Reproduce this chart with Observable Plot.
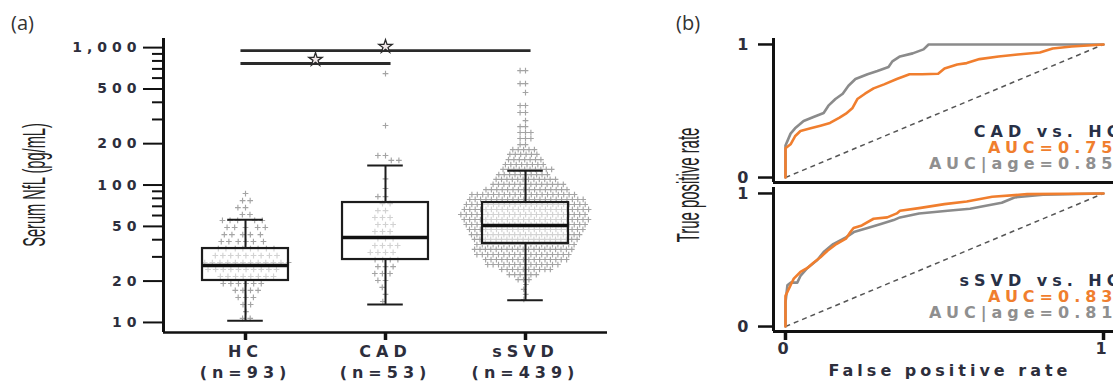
<!DOCTYPE html>
<html><head><meta charset="utf-8">
<script src="https://cdn.jsdelivr.net/npm/d3@7"></script>
<script src="https://cdn.jsdelivr.net/npm/@observablehq/plot@0.6"></script>
<style>
html,body{margin:0;padding:0;background:#fff;overflow:hidden;}
#root{position:relative;width:1113px;height:381px;overflow:hidden;background:#fff;}
.lbl{position:absolute;white-space:nowrap;line-height:1;}
</style></head><body><div id="root"></div>
<script>
// ---------- Panel (a) data ----------
const categories = ["HC", "CAD", "sSVD"];
const groupN = [93, 53, 439];
const q1 = [20.2, 28.7, 37.6];
const medians = [26, 41.5, 50.7];
const q3 = [34.5, 74.6, 74.6];
const whiskerLow = [10.3, 13.5, 14.5];
const whiskerHigh = [56, 138.6, 127];

// beeswarm rows (value, count)
const hcValues = [86.7, 77.1, 68.5, 61.0, 55.2, 49.1, 43.6, 38.8, 34.5, 30.7, 27.3, 24.3, 21.6, 19.2, 17.1, 15.2, 13.5, 12.0, 10.7];
const hcCounts = [1, 2, 2, 2, 5, 5, 5, 6, 8, 9, 12, 10, 8, 6, 4, 3, 2, 1, 2];
const cadValues = [647, 271, 164, 151, 111, 94.3, 82.4, 73.3, 65.2, 58.0, 51.6, 45.9, 40.8, 36.3, 32.3, 28.7, 25.5, 22.7, 20.2, 18.0, 16.0, 14.2];
const cadCounts = [1, 1, 2, 2, 1, 1, 2, 2, 2, 3, 3, 3, 3, 4, 4, 4, 3, 3, 2, 1, 1, 1];
const ssvdValues = [680, 547, 471, 379, 337, 294, 266, 241, 218, 197, 181, 167, 153, 141, 130, 119, 110, 101, 92.7, 85.3, 78.5, 72.2, 66.4, 61.0, 56.1, 51.6, 47.5, 43.6, 40.2, 36.9, 34.0, 31.2, 28.7, 26.4, 24.3, 22.3, 20.5, 18.9, 17.4, 16.0, 14.7];
const ssvdCounts = [2, 2, 1, 2, 2, 1, 2, 3, 3, 2, 5, 6, 7, 8, 10, 10, 12, 14, 16, 20, 22, 23, 24, 24, 24, 23, 22, 21, 20, 19, 19, 18, 16, 14, 10, 6, 3, 1, 1, 1, 1];

const sigPairs = [["HC", "sSVD"], ["HC", "CAD"]];
const sigLevels = [951, 766];
const yTicks = [10, 20, 50, 100, 200, 500, 1000];
const yMinorTicks = [30, 40, 60, 70, 80, 90, 300, 400, 600, 700, 800, 900];

// ---------- Panel (b) data ----------
const rocPanels = ["CAD vs. HC", "sSVD vs. HC"];
const aucLabels = ["AUC=0.75", "AUC=0.83"];
const ageLabels = ["AUC|age=0.85", "AUC|age=0.81"];
const rocTicks = [0, 1];
const cadAucFpr = [0, 0, 0.016, 0.03, 0.047, 0.079, 0.11, 0.14, 0.17, 0.19, 0.21, 0.226, 0.25, 0.277, 0.31, 0.35, 0.39, 0.43, 0.48, 0.50, 0.54, 0.57, 0.61, 0.67, 0.73, 0.80, 0.84, 0.90, 1];
const cadAucTpr = [0, 0.22, 0.25, 0.31, 0.35, 0.37, 0.39, 0.41, 0.45, 0.48, 0.52, 0.59, 0.63, 0.67, 0.70, 0.74, 0.776, 0.776, 0.78, 0.82, 0.85, 0.86, 0.89, 0.91, 0.925, 0.94, 0.97, 0.985, 1];
const cadAgeFpr = [0, 0, 0.016, 0.03, 0.057, 0.088, 0.12, 0.135, 0.157, 0.18, 0.198, 0.22, 0.258, 0.289, 0.324, 0.336, 0.36, 0.40, 0.434, 0.45, 1];
const cadAgeTpr = [0, 0.24, 0.33, 0.37, 0.425, 0.455, 0.485, 0.54, 0.59, 0.63, 0.69, 0.74, 0.776, 0.80, 0.83, 0.873, 0.91, 0.933, 0.963, 1, 1];
const ssvdAucFpr = [0, 0, 0.016, 0.026, 0.047, 0.069, 0.088, 0.11, 0.132, 0.16, 0.19, 0.204, 0.214, 0.24, 0.277, 0.32, 0.35, 0.36, 0.42, 0.50, 0.57, 0.65, 0.76, 1];
const ssvdAucTpr = [0, 0.23, 0.31, 0.36, 0.41, 0.44, 0.48, 0.52, 0.57, 0.62, 0.66, 0.71, 0.74, 0.76, 0.81, 0.82, 0.85, 0.87, 0.89, 0.92, 0.94, 0.975, 0.995, 1];
const ssvdAgeFpr = [0, 0, 0.006, 0.016, 0.037, 0.047, 0.069, 0.10, 0.12, 0.15, 0.19, 0.215, 0.258, 0.30, 0.34, 0.36, 0.42, 0.51, 0.58, 0.68, 0.72, 0.81, 1];
const ssvdAgeTpr = [0, 0.18, 0.31, 0.33, 0.33, 0.38, 0.44, 0.50, 0.56, 0.62, 0.67, 0.71, 0.74, 0.77, 0.80, 0.82, 0.85, 0.87, 0.885, 0.93, 0.97, 0.99, 1];

// ---------- build tables ----------
const swarmValues = [hcValues, cadValues, ssvdValues];
const swarmCounts = [hcCounts, cadCounts, ssvdCounts];
const dots = [];
categories.forEach((c, i) => swarmValues[i].forEach((v, j) => {
  for (let k = 0; k < swarmCounts[i][j]; k++) dots.push({group: c, value: v});
}));
const stats = categories.map((c, i) => ({group: c, i, q1: q1[i], med: medians[i], q3: q3[i], lo: whiskerLow[i], hi: whiskerHigh[i]}));
const idx = (c) => categories.indexOf(c);
const sig = sigPairs.map(([a, b], k) => ({a: idx(a), b: idx(b), mid: (idx(a) + idx(b)) / 2, level: sigLevels[k]}));

const toRows = (panel, fpr, tpr) => fpr.map((f, i) => ({panel, fpr: f, tpr: tpr[i]}));
const aucRows = [...toRows(rocPanels[0], cadAucFpr, cadAucTpr), ...toRows(rocPanels[1], ssvdAucFpr, ssvdAucTpr)];
const ageRows = [...toRows(rocPanels[0], cadAgeFpr, cadAgeTpr), ...toRows(rocPanels[1], ssvdAgeFpr, ssvdAgeTpr)];
const annot = rocPanels.map((p, i) => ({panel: p, title: p, auc: aucLabels[i], age: ageLabels[i]}));

// ---------- layout ----------
const root = document.getElementById("root");
const W = 640, H = 381, ML = 163, MR = 33, MT = 38, MB = 49;
const padOuter = 0.0857;
const yDomain = [8.45, 1165];
const xDomain = [-(0.5 + padOuter), categories.length - 0.5 + padOuter];
const WIDE = "'DejaVu Sans', sans-serif";
const INK = "#2d2e3c";

function layer(node, left) {
  node.style.position = "absolute";
  node.style.left = left + "px";
  node.style.top = "0px";
  root.appendChild(node);
}

// swarm (under): the small groups are spread loosely, the big group is packed tighter
const dotStyle = {fx: "group", y: "value", r: 2, symbol: "plus", stroke: "#a4a4a4", strokeWidth: 1.15};
const smallGroups = dots.filter(d => d.group !== "sSVD");
const bigGroup = dots.filter(d => d.group === "sSVD");
const swarm = Plot.plot({
  width: W, height: H, marginLeft: ML, marginRight: MR, marginTop: MT, marginBottom: MB,
  style: {background: "transparent", overflow: "visible"},
  fx: {domain: categories, paddingInner: 0, paddingOuter: padOuter, axis: null},
  y: {type: "log", domain: yDomain, axis: null},
  marks: [
    Plot.dot(smallGroups, Plot.dodgeX({anchor: "middle", padding: 3.6}, dotStyle)),
    Plot.dot(bigGroup, Plot.dodgeX({anchor: "middle", padding: 1.4}, dotStyle))
  ]
});
layer(swarm, 0);

// boxes & axes (over)
const boxHalf = 0.307, capHalf = 0.127, sigExt = 0.036;
const overlay = Plot.plot({
  width: W, height: H, marginLeft: ML, marginRight: MR, marginTop: MT, marginBottom: MB,
  style: {background: "transparent", overflow: "visible", fontFamily: WIDE, fontWeight: "bold", letterSpacing: "5px", color: "#111"},
  x: {domain: xDomain, axis: null},
  y: {type: "log", domain: yDomain, axis: null},
  marks: [
    Plot.ruleX(stats, {x: "i", y1: "q3", y2: "hi", stroke: "#1c1c1c", strokeWidth: 2}),
    Plot.ruleX(stats, {x: "i", y1: "lo", y2: "q1", stroke: "#1c1c1c", strokeWidth: 2}),
    Plot.ruleY(stats, {y: "hi", x1: d => d.i - capHalf, x2: d => d.i + capHalf, stroke: "#1c1c1c", strokeWidth: 2}),
    Plot.ruleY(stats, {y: "lo", x1: d => d.i - capHalf, x2: d => d.i + capHalf, stroke: "#1c1c1c", strokeWidth: 2}),
    Plot.rect(stats, {x1: d => d.i - boxHalf, x2: d => d.i + boxHalf, y1: "q1", y2: "q3", fill: "white", fillOpacity: 0.5, stroke: "#1c1c1c", strokeWidth: 2.2}),
    Plot.ruleY(stats, {y: "med", x1: d => d.i - boxHalf, x2: d => d.i + boxHalf, stroke: "#111", strokeWidth: 3.5}),
    Plot.link(sig, {x1: d => d.a - sigExt, x2: d => d.b + sigExt, y1: "level", y2: "level", stroke: "#2a2a2a", strokeWidth: 2.8}),
    Plot.dot(sig, {x: "mid", y: "level", symbol: "star", r: 4.2, fill: "#f2e9ea", stroke: "#2a2a2a", strokeWidth: 1.3, dy: -4}),
    Plot.ruleX([xDomain[0]], {y1: yDomain[0], y2: yDomain[1], stroke: "#111", strokeWidth: 3}),
    Plot.ruleY([yDomain[0]], {x1: xDomain[0], x2: xDomain[1], stroke: "#111", strokeWidth: 2.5}),
    Plot.axisY(yTicks, {tickSize: 20, strokeWidth: 2, stroke: "#111", tickFormat: () => "", label: null}),
    Plot.axisY(yMinorTicks, {tickSize: 11, strokeWidth: 2, stroke: "#111", tickFormat: () => "", label: null}),
    Plot.text(yTicks, {y: d => d, frameAnchor: "left", textAnchor: "end", dx: -22, text: d3.format(","), fill: INK, fontSize: 14}),
    Plot.axisX([0, 1, 2], {tickSize: 8, tickPadding: 2, strokeWidth: 3.5, stroke: "#111", fill: INK, fontSize: 16, lineHeight: 1.3, label: null, tickFormat: i => `${categories[i]}\n(n=${groupN[i]})`})
  ]
});
layer(overlay, 0);

// ROC panel
const rx = [-0.0377, 1.0314], ry = [-0.0373, 1.0448];
const roc = Plot.plot({
  width: 473, height: H, marginLeft: 133, marginRight: 0, marginTop: 37, marginBottom: 49,
  style: {background: "transparent", fontFamily: WIDE, fontWeight: "bold", letterSpacing: "5px", color: "#111"},
  x: {domain: rx, axis: null},
  y: {domain: ry, axis: null},
  fy: {domain: rocPanels, paddingInner: 0.033, paddingOuter: 0, axis: null},
  marks: [
    Plot.link([0], {x1: 0, y1: 0, x2: 1, y2: 1, stroke: "#555", strokeWidth: 1.5, strokeDasharray: "5,4"}),
    Plot.line(ageRows, {fy: "panel", x: "fpr", y: "tpr", stroke: "#8b8b8b", strokeWidth: 2.6}),
    Plot.line(aucRows, {fy: "panel", x: "fpr", y: "tpr", stroke: "#f07e2e", strokeWidth: 2.6}),
    Plot.ruleX([rx[0]], {y1: ry[0], y2: ry[1], stroke: "#111", strokeWidth: 3}),
    Plot.ruleY([ry[0]], {x1: rx[0], x2: rx[1], stroke: "#111", strokeWidth: 3}),
    Plot.axisY(rocTicks, {tickSize: 15, tickPadding: 5, strokeWidth: 2.5, stroke: "#111", fill: INK, fontSize: 16, label: null, tickFormat: d3.format("d")}),
    Plot.axisX(rocTicks, {tickSize: 9, tickPadding: 2, strokeWidth: 3.5, stroke: "#111", fill: INK, fontSize: 16, label: null, tickFormat: d3.format("d")}),
    Plot.text(annot, {fy: "panel", x: rx[1], y: 0.345, text: "title", textAnchor: "end", dx: 10, fill: "#283046", fontSize: 16}),
    Plot.text(annot, {fy: "panel", x: rx[1], y: 0.225, text: "auc", textAnchor: "end", dx: 4, fill: "#f07e2e", fontSize: 16}),
    Plot.text(annot, {fy: "panel", x: rx[1], y: 0.10, text: "age", textAnchor: "end", dx: 4, fill: "#8f8f8f", fontSize: 16})
  ]
});
layer(roc, 640);

// HTML labels
function label(text, css) {
  const d = document.createElement("div");
  d.className = "lbl";
  d.textContent = text;
  d.style.cssText += css;
  root.appendChild(d);
}
label("(a)", "left:11px;top:9px;font:20px 'Open Sans',sans-serif;color:#333;");
label("(b)", "left:676px;top:9px;font:20px 'Open Sans',sans-serif;color:#333;");
label("Serum NfL (pg/mL)", "left:34px;top:185px;font:32px 'Liberation Sans',sans-serif;color:#222;transform:translate(-50%,-50%) rotate(-90deg) scaleX(0.456);");
label("True positive rate", "left:688px;top:185px;font:32px 'Liberation Sans',sans-serif;color:#222;transform:translate(-50%,-50%) rotate(-90deg) scaleX(0.466);");
label("False positive rate", "left:950px;top:370px;font:bold 16px 'DejaVu Sans',sans-serif;letter-spacing:4px;color:" + INK + ";transform:translate(-50%,-50%);");
</script></body></html>
